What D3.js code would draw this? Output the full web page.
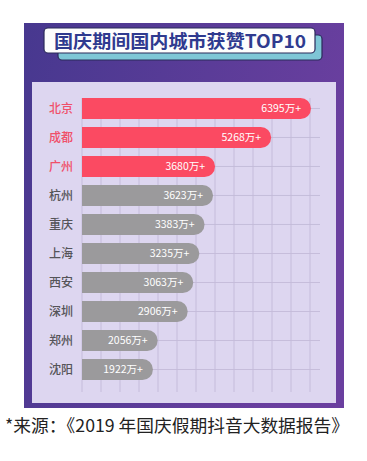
<!DOCTYPE html>
<html>
<head>
<meta charset="utf-8">
<script src="https://cdn.jsdelivr.net/npm/d3@7/dist/d3.min.js"></script>
<style>
  html, body { margin: 0; padding: 0; background: #fff; }
  svg { display: block; font-family: "Noto Sans CJK SC", "Noto Sans", sans-serif; }
</style>
</head>
<body>
<div id="vis"></div>
<script>
const title = '国庆期间国内城市获赞TOP10';
const source = '*来源：《2019 年国庆假期抖音大数据报告》';
const cities = ['北京', '成都', '广州', '杭州', '重庆', '上海', '西安', '深圳', '郑州', '沈阳'];
const likes = [6395, 5268, 3680, 3623, 3383, 3235, 3063, 2906, 2056, 1922];
const unitSuffix = '万+';

const width = 367;
const height = 461;
const dimensions = {
    panel: { x: 24, y: 23, w: 320, h: 385 },
    inner: { x: 32, y: 82, w: 304, h: 321 },
    plot: { left: 82, right: 311, top: 98, bottom: 380 }
};
const red = '#fb4a62';
const gray = '#9b9a9c';
const topN = 3;

const data = cities.map((c, i) => ({ city: c, value: likes[i], rank: i }));

const svg = d3.select('#vis')
    .append('svg')
    .attr('width', width)
    .attr('height', height);

const defs = svg.append('defs');
const grad = defs.append('linearGradient')
    .attr('id', 'bg')
    .attr('x1', 0).attr('y1', 0).attr('x2', 1).attr('y2', 0.3);
grad.append('stop').attr('offset', '0%').attr('stop-color', '#47388f');
grad.append('stop').attr('offset', '100%').attr('stop-color', '#6a3f9f');

// purple frame + light panel
svg.append('rect')
    .attr('x', dimensions.panel.x).attr('y', dimensions.panel.y)
    .attr('width', dimensions.panel.w).attr('height', dimensions.panel.h)
    .attr('fill', 'url(#bg)');
svg.append('rect')
    .attr('x', dimensions.inner.x).attr('y', dimensions.inner.y)
    .attr('width', dimensions.inner.w).attr('height', dimensions.inner.h)
    .attr('fill', '#ddd6f0');

// title badge
const badge = svg.append('g');
badge.append('rect')
    .attr('x', 58).attr('y', 35).attr('width', 264).attr('height', 25)
    .attr('rx', 4)
    .attr('fill', '#7ec6d6').attr('stroke', '#2b2a5a').attr('stroke-width', 1.2);
badge.append('rect')
    .attr('x', 44).attr('y', 28).attr('width', 271).attr('height', 25)
    .attr('rx', 4)
    .attr('fill', '#fdfdfd').attr('stroke', '#2b2a5a').attr('stroke-width', 1.2);
badge.append('text')
    .attr('x', 180).attr('y', 47.5)
    .attr('text-anchor', 'middle')
    .attr('font-size', 18)
    .attr('font-weight', 700)
    .attr('fill', '#2f3a8f')
    .attr('textLength', 252)
    .attr('lengthAdjust', 'spacingAndGlyphs')
    .text(title);

// scales
const xScale = d3.scaleLinear()
    .domain([0, d3.max(likes)])
    .range([dimensions.plot.left + 3, dimensions.plot.right]);

const yScale = d3.scaleBand()
    .domain(cities)
    .range([dimensions.plot.top, dimensions.plot.bottom])
    .paddingInner(0.276)
    .paddingOuter(0);

const gridScale = d3.scaleLinear()
    .domain([0, 12])
    .range([dimensions.plot.left, 310]);

// grid
const grid = svg.append('g').attr('stroke', '#c3bad8').attr('stroke-width', 0.9);
grid.selectAll('.v')
    .data(gridScale.ticks(12))
    .join('line')
    .attr('x1', d => gridScale(d)).attr('x2', d => gridScale(d))
    .attr('y1', dimensions.plot.top).attr('y2', 392);
grid.selectAll('.h')
    .data(cities)
    .join('line')
    .attr('x1', dimensions.plot.left).attr('x2', 320)
    .attr('y1', d => yScale(d) + yScale.bandwidth() / 2)
    .attr('y2', d => yScale(d) + yScale.bandwidth() / 2);

// bars: flat left, round right end
const barPath = d => {
    const x0 = dimensions.plot.left;
    const x1 = xScale(d.value);
    const y0 = yScale(d.city);
    const h = yScale.bandwidth();
    const r = h / 2;
    return `M${x0},${y0} H${x1 - r} A${r},${r} 0 0 1 ${x1 - r},${y0 + h} H${x0} Z`;
};

const bars = svg.append('g');
bars.selectAll('path')
    .data(data)
    .join('path')
    .attr('d', barPath)
    .attr('fill', d => d.rank < topN ? red : gray);

bars.selectAll('.val')
    .data(data)
    .join('text')
    .attr('class', 'val')
    .attr('x', d => xScale(d.value) - 10)
    .attr('y', d => yScale(d.city) + yScale.bandwidth() / 2)
    .attr('dy', '0.36em')
    .attr('text-anchor', 'end')
    .attr('font-size', 10.5)
    .attr('fill', '#fff')
    .text(d => d.value + unitSuffix);

svg.append('g')
    .selectAll('text')
    .data(data)
    .join('text')
    .attr('x', 73)
    .attr('y', d => yScale(d.city) + yScale.bandwidth() / 2)
    .attr('dy', '0.36em')
    .attr('text-anchor', 'end')
    .attr('font-size', 12)
    .attr('font-weight', 500)
    .attr('fill', d => d.rank < topN ? '#f0506a' : '#555458')
    .text(d => d.city);

// source note
svg.append('text')
    .attr('x', 5).attr('y', 432)
    .attr('font-size', 17.5)
    .attr('fill', '#222')
    .attr('textLength', 344)
    .attr('lengthAdjust', 'spacingAndGlyphs')
    .text(source);
</script>
</body>
</html>
